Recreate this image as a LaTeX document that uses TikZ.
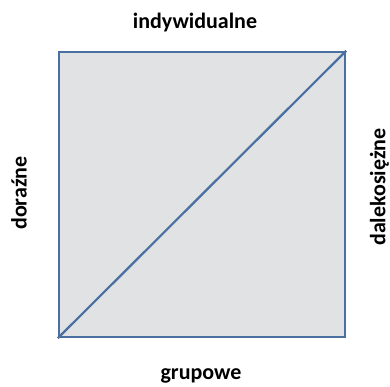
\documentclass[tikz,border=0pt]{standalone}
\usepackage{fontspec}
\setmainfont{Carlito}
\usetikzlibrary{positioning}
\definecolor{rama}{HTML}{4A70A2}
\definecolor{tlo}{HTML}{E1E2E4}

\begin{document}
\begin{tikzpicture}[x=1pt,y=1pt,
    etykieta/.style={font=\bfseries\fontsize{22}{25}\selectfont,inner sep=0pt}]
    \useasboundingbox (0,0) rectangle (390,386);
    \node[draw=rama,fill=tlo,line width=2.4pt,minimum width=286pt,minimum height=285pt,
      inner sep=0pt] (pole) at (202,191.5) {};
    \draw[rama,line width=2.2pt] (pole.south west)--(pole.north east);
    \node[etykieta] (gora) at (195,363.5) {indywidualne};
    \node[etykieta] (dol) at (201,10) {grupowe};
    \node[etykieta,rotate=90] (lewo) at (19,193) {doraźne};
    \node[etykieta,rotate=90] (prawo) at (379.5,199) {dalekosiężne};
  \end{tikzpicture}
\end{document}
